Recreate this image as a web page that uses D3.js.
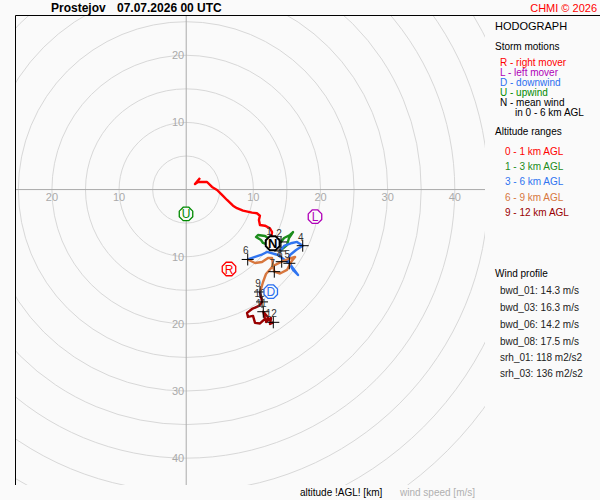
<!DOCTYPE html>
<html>
<head>
<meta charset="utf-8">
<script src="https://cdn.jsdelivr.net/npm/d3@7"></script>
<style>
  body { margin: 0; background: #fafafa; }
  svg { display: block; font-family: "Liberation Sans", Arial, sans-serif; }
</style>
</head>
<body>
<script>
// hodograph segments, [u, v] in m/s
const seg01 = [[2.06, 1.73], [1.31, 0.83], [1.76, 1.13], [3.10, 1.13], [3.84, 0.39], [4.59, -0.06],
  [5.33, -0.80], [6.08, -1.55], [6.97, -2.40], [7.56, -2.78], [8.46, -3.14], [9.80, -3.44],
  [10.53, -3.53], [10.98, -3.89], [10.83, -4.53], [10.98, -5.27], [11.72, -5.38], [12.47, -5.76],
  [12.78, -6.32], [12.63, -7.51]];
const seg13 = [[12.63, -7.51], [11.74, -6.91], [10.69, -6.76], [10.40, -7.06], [11.14, -7.51],
  [11.44, -7.95], [12.18, -8.25], [12.93, -7.95], [14.12, -7.80], [14.57, -7.21], [15.46, -6.76],
  [15.91, -6.32], [15.31, -7.21], [15.01, -8.25], [13.97, -9.14]];
const seg36 = [[13.97, -9.14], [14.57, -8.40], [15.76, -7.95], [16.50, -7.80], [17.35, -8.36],
  [16.36, -9.00], [15.46, -9.74], [15.16, -10.49], [15.76, -11.53], [16.65, -12.72], [15.91, -11.97],
  [15.36, -10.98], [14.27, -10.19], [13.67, -9.74], [12.03, -9.29], [11.14, -9.74], [10.25, -10.04],
  [9.16, -10.41]];
const seg69 = [[9.16, -10.41], [10.25, -10.93], [11.29, -10.78], [12.18, -10.19], [12.78, -10.19],
  [12.93, -11.23], [13.12, -12.23], [13.97, -12.50], [15.01, -11.97], [15.61, -10.78], [16.21, -10.04],
  [15.16, -10.34], [14.22, -10.74], [12.93, -11.38], [11.88, -12.57], [11.44, -13.76], [11.14, -14.80],
  [10.99, -15.25]];
const seg912 = [[10.99, -15.25], [11.14, -15.98], [11.29, -16.73], [10.84, -17.33], [9.80, -17.78],
  [9.06, -18.37], [9.20, -18.97], [9.95, -18.82], [10.25, -19.86], [10.99, -19.94], [11.74, -19.27],
  [11.48, -18.19], [12.18, -19.01], [11.88, -19.72], [12.63, -19.12], [12.48, -20.02], [12.97, -19.77]];

// km marks along the hodograph
const heightKm = [1, 2, 3, 4, 5, 6, 7, 8, 9, 10, 11, 12];
const heightU = [12.63, 14.12, 13.97, 17.35, 15.36, 9.16, 13.12, 14.22, 10.99, 11.29, 11.48, 12.97];
const heightV = [-7.51, -7.80, -9.14, -8.36, -10.98, -10.41, -12.23, -10.74, -15.25, -16.73, -18.19, -19.77];

// storm motions
const motionKeys = ["R", "L", "D", "U", "N"];
const motionU = [6.37, 19.18, 12.59, -0.03, 12.88];
const motionV = [-11.83, -4.04, -15.21, -3.63, -8.00];

const ringValues = [5, 10, 15, 20, 25, 30, 35, 40, 45, 50, 55];
const xTicks = [-20, -10, 10, 20, 30, 40];
const yTicks = [20, 10, -10, -20, -30, -40];

const stormLegend = ["R - right mover", "L - left mover", "D - downwind", "U - upwind", "N - mean wind"];
const altitudeLegend = ["0 - 1 km AGL", "1 - 3 km AGL", "3 - 6 km AGL", "6 - 9 km AGL", "9 - 12 km AGL"];
const bwdNames = ["bwd_01", "bwd_03", "bwd_06", "bwd_08"];
const bwdValues = [14.3, 16.3, 14.2, 17.5];
const srhNames = ["srh_01", "srh_03"];
const srhValues = [118, 136];

const motionColor = { R: "#ff0000", L: "#b000b8", D: "#2a6ff0", U: "#008a00", N: "#000000" };
const segColors = ["#ff0000", "#1c8c1c", "#2f74f0", "#d7773f", "#990000"];

const width = 600, height = 500;
const x = d3.scaleLinear().domain([-25.5, 44.5]).range([15, 485]);
const y = d3.scaleLinear().domain([26, -44]).range([15, 485]);
const px = d => x(d) - x(0);

const svg = d3.select("body").append("svg")
    .attr("width", width)
    .attr("height", height);

svg.append("rect").attr("width", width).attr("height", height).attr("fill", "#fafafa");

svg.append("clipPath").attr("id", "plot")
  .append("rect").attr("x", 15).attr("y", 15).attr("width", 470).attr("height", 470);

const plot = svg.append("g").attr("clip-path", "url(#plot)");

plot.append("g")
    .selectAll("circle")
    .data(ringValues)
    .join("circle")
    .attr("cx", x(0))
    .attr("cy", y(0))
    .attr("r", d => px(d))
    .attr("fill", "none")
    .attr("stroke", "#d8d8d8");

plot.append("line")
    .attr("x1", x.range()[0]).attr("x2", x.range()[1])
    .attr("y1", y(0)).attr("y2", y(0))
    .attr("stroke", "#aaa");
plot.append("line")
    .attr("x1", x(0)).attr("x2", x(0))
    .attr("y1", y.range()[0]).attr("y2", y.range()[1])
    .attr("stroke", "#aaa");

svg.append("g")
    .selectAll("text")
    .data(xTicks)
    .join("text")
    .attr("x", d => x(d))
    .attr("y", y(0) + 11)
    .attr("text-anchor", "middle")
    .attr("font-size", 11)
    .attr("fill", "#aaa")
    .text(d => Math.abs(d));

svg.append("g")
    .selectAll("text")
    .data(yTicks)
    .join("text")
    .attr("x", x(0) - 2)
    .attr("y", d => y(d) + 4)
    .attr("text-anchor", "end")
    .attr("font-size", 11)
    .attr("fill", "#aaa")
    .text(d => Math.abs(d));

// frame
svg.append("path")
    .attr("d", `M15.5,485V15.5H600`)
    .attr("fill", "none")
    .attr("stroke", "#000");

// hodograph
const line = d3.line().x(d => x(d[0])).y(d => y(d[1]));
plot.append("g")
    .selectAll("path")
    .data([seg01, seg13, seg36, seg69, seg912])
    .join("path")
    .attr("d", line)
    .attr("fill", "none")
    .attr("stroke", (d, i) => segColors[i])
    .attr("stroke-width", 2.4)
    .attr("stroke-linejoin", "round");

const marks = heightKm.map((k, i) => ({ k, u: heightU[i], v: heightV[i] }));
plot.append("g")
    .selectAll("path")
    .data(marks)
    .join("path")
    .attr("d", d => `M${x(d.u) - 6},${y(d.v)}h12M${x(d.u)},${y(d.v) - 6}v12`)
    .attr("stroke", "#000")
    .attr("stroke-width", 1);
plot.append("g")
    .selectAll("text")
    .data(marks)
    .join("text")
    .attr("x", d => x(d.u) - 2)
    .attr("y", d => y(d.v) - 5)
    .attr("text-anchor", "middle")
    .attr("font-size", 10)
    .attr("fill", "#333")
    .text(d => d.k);

// storm motion markers
const octagon = r => d3.range(8).map(i => {
  const a = Math.PI / 8 + i * Math.PI / 4;
  return [r * Math.cos(a), r * Math.sin(a)];
});
const motions = motionKeys.map((k, i) => ({ k, u: motionU[i], v: motionV[i] }));
const mg = plot.append("g")
    .selectAll("g")
    .data(motions)
    .join("g")
    .attr("transform", d => `translate(${x(d.u)},${y(d.v)})`);
mg.append("path")
    .attr("d", d => "M" + octagon(d.k === "N" ? 7.5 : 7.3).join("L") + "Z")
    .attr("fill", "#fafafa")
    .attr("stroke", d => motionColor[d.k])
    .attr("stroke-width", d => d.k === "N" ? 2 : 1.3);
mg.append("text")
    .attr("y", d => d.k === "N" ? 5 : 4.5)
    .attr("text-anchor", "middle")
    .attr("font-size", d => d.k === "N" ? 13 : 12)
    .attr("font-weight", d => d.k === "N" ? "bold" : "normal")
    .attr("fill", d => motionColor[d.k])
    .text(d => d.k);

// title
svg.append("text").attr("x", 51).attr("y", 12)
    .attr("font-size", 12).attr("font-weight", "bold").text("Prostejov");
svg.append("text").attr("x", 117).attr("y", 12)
    .attr("font-size", 12).attr("font-weight", "bold").text("07.07.2026 00 UTC");
svg.append("text").attr("x", 597).attr("y", 12)
    .attr("text-anchor", "end").attr("font-size", 11).attr("fill", "#ff0000").text("CHMI © 2026");

// right panel
const side = svg.append("g").attr("font-size", 10);
side.append("text").attr("x", 495).attr("y", 30).attr("font-size", 11).text("HODOGRAPH");
side.append("text").attr("x", 495).attr("y", 50).text("Storm motions");
side.selectAll(".sm")
    .data(stormLegend)
    .join("text")
    .attr("x", 500)
    .attr("y", (d, i) => 66 + i * 10)
    .attr("fill", (d, i) => motionColor[motionKeys[i]])
    .text(d => d);
side.append("text").attr("x", 515).attr("y", 116).text("in 0 - 6 km AGL");
side.append("text").attr("x", 495).attr("y", 135).text("Altitude ranges");
side.selectAll(".alt")
    .data(altitudeLegend)
    .join("text")
    .attr("x", 505)
    .attr("y", (d, i) => 155 + i * 15.2)
    .attr("fill", (d, i) => segColors[i])
    .text(d => d);

side.append("text").attr("x", 495).attr("y", 277).text("Wind profile");
side.selectAll(".bwd")
    .data(bwdNames)
    .join("text")
    .attr("x", 500)
    .attr("y", (d, i) => 294 + i * 17)
    .attr("fill", "#222")
    .text((d, i) => `${d}: ${bwdValues[i]} m/s`);
side.selectAll(".srh")
    .data(srhNames)
    .join("text")
    .attr("x", 500)
    .attr("y", (d, i) => 361 + i * 16)
    .attr("fill", "#222")
    .text((d, i) => `${d}: ${srhValues[i]} m2/s2`);

// bottom captions
svg.append("text").attr("x", 300).attr("y", 496).attr("font-size", 10).text("altitude !AGL! [km]");
svg.append("text").attr("x", 400).attr("y", 496).attr("font-size", 10).attr("fill", "#b0b0b0").text("wind speed [m/s]");
</script>
</body>
</html>
